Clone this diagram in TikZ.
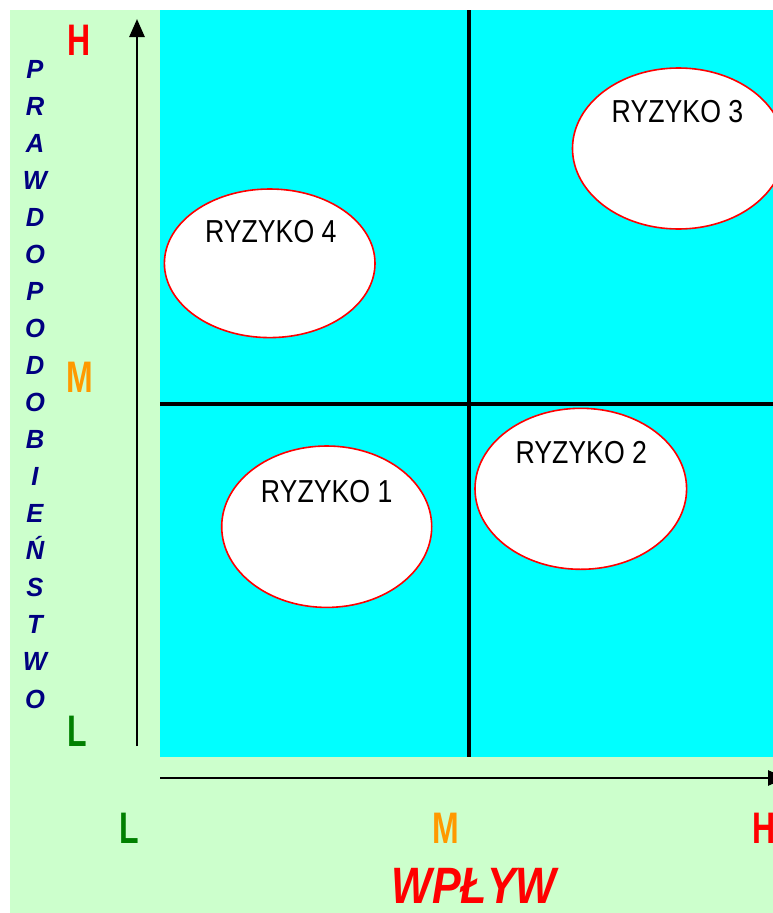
\documentclass[tikz,border=0pt]{standalone}
\usepackage{fontspec}
\setmainfont{Liberation Sans}
\usetikzlibrary{arrows.meta,shapes.geometric}
\definecolor{bggreen}{HTML}{CCFFCC}
\definecolor{quadcyan}{HTML}{00FFFF}
\definecolor{lblred}{HTML}{FF0000}
\definecolor{lblorange}{HTML}{FF9900}
\definecolor{lblgreen}{HTML}{008000}
\definecolor{lblnavy}{HTML}{000080}
\newcommand{\ysc}[2]{\scalebox{1}[#1]{#2}}
\tikzset{
  risk/.style={ellipse, draw=lblred, line width=1.6pt, fill=white, inner sep=0pt},
  risktext/.style={anchor=base, inner sep=0pt, font=\fontsize{26.7pt}{30pt}\selectfont},
  levellbl/.style={inner sep=0pt, font=\fontsize{32pt}{36pt}\selectfont\bfseries},
  vletter/.style={anchor=base, inner sep=0pt, text=lblnavy, font=\fontsize{25.5pt}{28pt}\selectfont\bfseries\itshape},
  axisarrow/.style={line width=2.7pt, -{Triangle[width=15pt,length=18pt]}},
  quadline/.style={line width=4.2pt}
}
\begin{document}
\begin{tikzpicture}[x=1pt,y=-1pt]
\useasboundingbox (0,0) rectangle (773,913);
\fill[white] (0,0) rectangle (773,913);
\fill[bggreen] (10,10) rectangle (773,913);
\fill[quadcyan] (160,10) rectangle (773,757);
% quadrant lines
\coordinate (vt) at (468.7,10);
\coordinate (vb) at (468.7,757);
\coordinate (hl) at (160,403.8);
\coordinate (hr) at (773,403.8);
\draw[quadline] (vt) -- (vb);
\draw[quadline] (hl) -- (hr);
% risks
\node[risk, minimum width=210.6pt, minimum height=148.6pt] (r4) at (269.7,263.3) {};
\node[risk, minimum width=212pt, minimum height=161pt] (r3) at (678.5,148.5) {};
\node[risk, minimum width=210pt, minimum height=161.4pt] (r1) at (326.7,526.7) {};
\node[risk, minimum width=211.6pt, minimum height=161pt] (r2) at (580.8,488.8) {};
\node[risktext] (t4) at (270.8,242.7) {\ysc{1.19}{RYZYKO 4}};
\node[risktext] (t3) at (677.5,122.7) {\ysc{1.19}{RYZYKO 3}};
\node[risktext] (t1) at (326.7,502.1) {\ysc{1.19}{RYZYKO 1}};
\node[risktext] (t2) at (581.3,463.9) {\ysc{1.19}{RYZYKO 2}};
% axes
\coordinate (ya0) at (137,746);
\coordinate (ya1) at (137,19);
\coordinate (xa0) at (160,778);
\coordinate (xa1) at (786,778);
\draw[axisarrow] (ya0) -- (ya1);
\draw[axisarrow] (xa0) -- (xa1);
% level labels
\node[levellbl, anchor=base west, text=lblred] (lh) at (67,55) {\ysc{1.38}{H}};
\node[levellbl, anchor=base west, text=lblorange] (lm) at (66,392) {\ysc{1.38}{M}};
\node[levellbl, anchor=base west, text=lblgreen] (ll) at (67,746) {\ysc{1.38}{L}};
\node[levellbl, anchor=base, text=lblgreen] (bl) at (129,843) {\ysc{1.38}{L}};
\node[levellbl, anchor=base, text=lblorange] (bm) at (446,843) {\ysc{1.38}{M}};
\node[levellbl, anchor=base west, text=lblred] (bh) at (752,843) {\ysc{1.38}{H}};
% axis titles
\node[anchor=base, inner sep=0pt, text=lblred, font=\fontsize{43pt}{48pt}\selectfont\bfseries\itshape] (wp) at (474,903.5) {\ysc{1.19}{WPŁYW}};
\foreach \l [count=\i from 0] in {P,R,A,W,D,O,P,O,D,O,B,I,E,Ń,S,T,W,O}{
  \node[vletter] (v\i) at (35,{78+37.06*\i}) {\ysc{1.03}{\l}};
}
\end{tikzpicture}
\end{document}
